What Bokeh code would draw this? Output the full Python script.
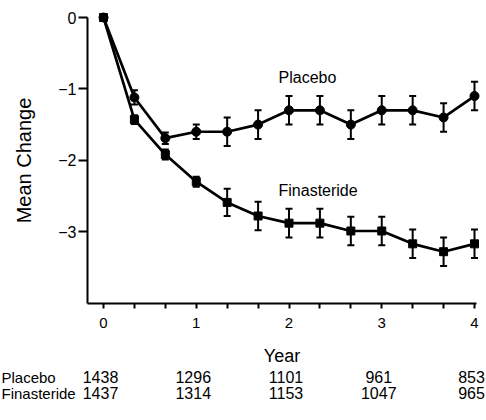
from bokeh.plotting import figure
from bokeh.models import Range1d, FixedTicker, ColumnDataSource, Whisker, TeeHead
from bokeh.core.properties import value
from bokeh.embed import file_html
from bokeh.resources import INLINE

# ---- data ----
months = [0, 4, 8, 12, 16, 20, 24, 28, 32, 36, 40, 44, 48]
placebo_mean = [0, -1.12, -1.69, -1.60, -1.60, -1.50, -1.30, -1.30, -1.50, -1.30, -1.30, -1.40, -1.10]
placebo_err = [0, 0.10, 0.08, 0.10, 0.20, 0.20, 0.20, 0.20, 0.20, 0.20, 0.20, 0.20, 0.20]
fin_mean = [0, -1.43, -1.92, -2.30, -2.59, -2.78, -2.88, -2.88, -2.99, -2.99, -3.17, -3.28, -3.17]
fin_err = [0, 0.06, 0.07, 0.07, 0.19, 0.20, 0.20, 0.20, 0.20, 0.20, 0.20, 0.20, 0.20]

x_ticks = [0, 1, 2, 3, 4]
x_tick_labels = ["0", "1", "2", "3", "4"]
y_ticks = [0, -1, -2, -3]
y_tick_labels = ["0", "\u22121", "\u22122", "\u22123"]

n_years = [0, 1, 2, 3, 4]
n_placebo = [1438, 1296, 1101, 961, 853]
n_fin = [1437, 1314, 1153, 1047, 965]
row_names = ["Placebo", "Finasteride"]
series_names = ["Placebo", "Finasteride"]

FONT = "Liberation Sans"

years = [m / 12 for m in months]

# axis extents (data units)
X_MIN, X_MAX = -0.1725, 4.02
Y_MIN, Y_MAX = -4.0, 0.0

# frame covers the whole canvas: 92.75 px per year, 71.4 px per unit of change
X_LEFT = -103 / 92.75
p = figure(width=486, height=420, output_backend="svg", toolbar_location=None,
           x_range=Range1d(X_LEFT, 383 / 92.75),
           y_range=Range1d(-403 / 71.4, 17 / 71.4),
           min_border_left=0, min_border_right=0, min_border_top=0, min_border_bottom=0)
p.outline_line_color = None
p.grid.visible = False
p.background_fill_color = "white"
p.border_fill_color = "white"

xa = p.xaxis[0]
xa.fixed_location = Y_MIN
xa.bounds = (X_MIN, X_MAX)
xa.ticker = FixedTicker(ticks=x_ticks, minor_ticks=[m / 12 for m in months if m % 12 != 0])
xa.major_label_overrides = {t: l for t, l in zip(x_ticks, x_tick_labels)}
ya = p.yaxis[0]
ya.fixed_location = X_MIN
ya.bounds = (Y_MIN, Y_MAX)
ya.ticker = FixedTicker(ticks=y_ticks)
ya.major_label_overrides = {t: l for t, l in zip(y_ticks, y_tick_labels)}
for ax in (xa, ya):
    ax.axis_line_width = 2
    ax.axis_line_color = "black"
    ax.major_tick_line_width = 2
    ax.major_tick_in = 0
    ax.minor_tick_line_width = 2
    ax.minor_tick_in = 0
    ax.major_label_text_font = FONT
    ax.major_label_text_color = "black"
    ax.axis_label_text_font = FONT
    ax.axis_label_text_font_style = "normal"
    ax.axis_label_text_color = "black"
xa.major_tick_out = 5
xa.minor_tick_out = 5
xa.major_label_text_font_size = "15px"
xa.major_label_standoff = 10
xa.axis_label = "Year"
xa.axis_label_text_font_size = "18px"
xa.axis_label_standoff = 14
ya.minor_tick_line_color = None
ya.major_tick_out = 9
ya.major_label_text_font_size = "16px"
ya.major_label_standoff = 2
ya.axis_label = "Mean Change"
ya.axis_label_text_font_size = "20px"
ya.axis_label_standoff = 20

for mean, err, marker, size in ((placebo_mean, placebo_err, "circle", 9),
                                (fin_mean, fin_err, "square", 8)):
    src = ColumnDataSource(dict(x=years, y=mean))
    p.line("x", "y", source=src, line_width=2.7, line_color="black")
    eb = ColumnDataSource(dict(
        x=[x for x, e in zip(years, err) if e > 0],
        upper=[m + e for m, e in zip(mean, err) if e > 0],
        lower=[m - e for m, e in zip(mean, err) if e > 0]))
    p.add_layout(Whisker(base="x", upper="upper", lower="lower", source=eb,
                         line_width=2, line_color="black",
                         upper_head=TeeHead(size=7, line_width=2, line_color="black"),
                         lower_head=TeeHead(size=7, line_width=2, line_color="black")))
    p.scatter("x", "y", source=src, marker=marker, size=size,
              fill_color="black", line_color="black")

# series labels
p.text(x=[1.887, 1.887], y=[-0.84, -2.42], text=series_names, text_font=value(FONT),
       text_font_size="16px", text_baseline="middle", text_align="left", text_color="black")

# table of patient numbers below the axis
row_y = [-5.042, -5.266]
p.text(x=[X_LEFT, X_LEFT], y=row_y, text=row_names, text_font=value(FONT),
       text_font_size="15px", text_baseline="middle", text_align="left", text_color="black",
       x_offset=1)
for counts, ry in zip((n_placebo, n_fin), row_y):
    p.text(x=n_years, y=[ry] * len(n_years), text=[str(c) for c in counts],
           text_font=value(FONT), text_font_size="16px", text_align="center",
           text_baseline="middle", text_color="black", x_offset=-3)

open("out.html", "w").write(file_html(p, INLINE))
